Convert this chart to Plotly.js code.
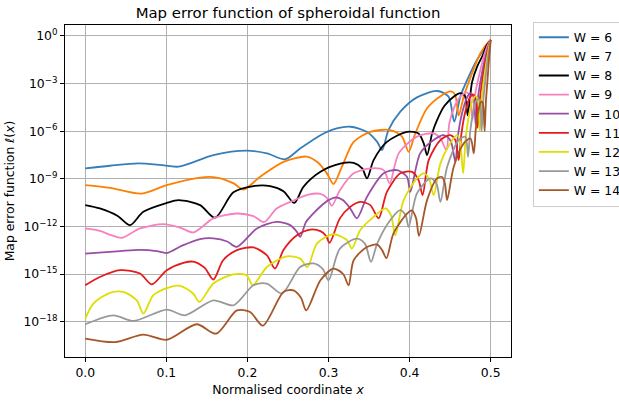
<!DOCTYPE html>
<html>
<head>
<meta charset="utf-8">
<script src="https://cdn.plot.ly/plotly-3.0.1.min.js"></script>
<style>
  html, body { margin: 0; padding: 0; background: #ffffff; }
  #chart { width: 619px; height: 401px; }
</style>
</head>
<body>
<div id="chart"></div>
<script>
// Map error of the spheroidal gridding function for kernel supports W = 6 .. 14,
// sampled along the normalised coordinate x in [0, 0.5].

const supports = [6, 7, 8, 9, 10, 11, 12, 13, 14];

const x6 = [0, .0305, .065, .092, .115, .158, .199, .224, .2465, .265, .29, .306, .327, .347, .36, .366, .374, .3885, .409, .434, .448, .455, .4625, .471, .483, .5];
const err6 = [4.5e-9, 6.6e-9, 9.3e-9, 7.6e-9, 5.8e-9, 3.1e-8, 5.9e-8, 4.0e-8, 1.7e-8, 8.1e-8, 5.6e-7, 1.3e-6, 1.9e-6, 9.1e-7, 2.1e-7, 6.5e-8, 1.2e-6, 1.7e-5, 1.35e-4, 3.4e-4, 1.5e-4, 4.0e-6, 1.5e-4, 1.7e-3, 3.1e-2, 0.56];

const x7 = [0, .0305, .0696, .1005, .1416, .162, .183, .195, .2157, .2444, .273, .2857, .298, .306, .3165, .331, .3515, .376, .3906, .3988, .407, .4215, .438, .451, .456, .4605, .4667, .477, .4873, .4975, .5];
const err7 = [4.0e-10, 2.7e-10, 1.17e-10, 4.0e-10, 1.2e-9, 1.2e-9, 5.1e-10, 2.1e-10, 1.35e-9, 1.17e-8, 2.5e-8, 1.17e-8, 2.2e-9, 4.6e-10, 5.8e-9, 2.1e-7, 9.1e-7, 1.17e-6, 4.5e-7, 5.0e-8, 7.2e-7, 2.75e-5, 1.6e-4, 3.2e-4, 2.0e-4, 1.0e-5, 1.5e-4, 4.5e-3, 8.1e-2, 0.44, 0.56];

const x8 = [0, .018, .04, .0552, .0716, .1005, .115, .1416, .160, .1827, .2074, .228, .2444, .2577, .269, .29, .3145, .331, .3415, .3474, .3556, .372, .3968, .411, .4174, .4215, .4277, .4338, .443, .455, .4626, .468, .4715, .477, .4835, .4894, .495, .5];
const err8 = [2.2e-11, 1.35e-11, 4.5e-12, 1.2e-12, 8.3e-12, 3.0e-11, 4.5e-11, 2.2e-11, 3.5e-12, 1.4e-10, 3.5e-10, 3.5e-10, 1.66e-10, 3.0e-11, 3.1e-10, 2.75e-9, 8.9e-9, 1.0e-8, 4.5e-9, 1.05e-9, 1.5e-8, 2.1e-7, 9.1e-7, 7.2e-7, 1.7e-7, 3.1e-8, 7.2e-7, 5.0e-6, 4.0e-5, 1.6e-4, 2.5e-4, 1.8e-4, 1.0e-5, 1.26e-3, 1.26e-2, 5.0e-2, 0.25, 0.56];

const x9 = [0, .018, .032, .045, .0675, .0963, .117, .1333, .158, .187, .2074, .2206, .236, .2527, .275, .29, .298, .304, .314, .331, .3515, .368, .3753, .3865, .409, .4296, .438, .4453, .449, .455, .463, .4705, .4745, .4775, .481, .4865, .4925, .4975, .5];
const err9 = [7.4e-13, 5.2e-13, 2.8e-13, 1.9e-13, 7.4e-13, 1.4e-12, 8.5e-13, 4.2e-13, 3.2e-12, 6.5e-12, 4.4e-12, 1.9e-12, 1.35e-11, 3.5e-11, 1.0e-10, 1.12e-10, 6.3e-11, 2.0e-11, 1.9e-10, 2.2e-9, 4.5e-9, 3.5e-9, 5.1e-10, 4.0e-8, 4.5e-7, 7.2e-7, 3.5e-7, 6.5e-8, 3.2e-6, 3.2e-5, 1.6e-4, 2.8e-4, 1.6e-4, 5.0e-6, 2.5e-4, 5.0e-3, 7.9e-2, 0.35, 0.56];

const x10 = [0, .043, .0675, .088, .1005, .12, .1416, .158, .175, .187, .2116, .236, .2527, .261, .265, .272, .281, .29, .30, .309, .318, .3268, .335, .3474, .368, .3845, .3968, .4008, .413, .4296, .442, .4505, .4564, .4595, .465, .4715, .4755, .479, .4815, .4845, .489, .494, .4985, .5];
const err10 = [1.95e-14, 2.8e-14, 3.3e-14, 2.8e-14, 2.1e-14, 6.3e-14, 1.6e-13, 1.75e-13, 1.12e-13, 5.1e-14, 7.4e-13, 1.9e-12, 1.2e-12, 4.5e-13, 2.2e-13, 1.8e-12, 6.3e-12, 1.8e-11, 4.5e-11, 6.8e-11, 4.5e-11, 1.35e-11, 3.2e-12, 7.2e-11, 2.2e-9, 3.5e-9, 1.3e-9, 1.5e-10, 4.0e-8, 2.75e-7, 5.6e-7, 2.5e-7, 1.17e-8, 5.0e-7, 1.6e-5, 1.6e-4, 2.5e-4, 1.26e-4, 2.5e-6, 1.6e-4, 4.0e-3, 6.3e-2, 0.35, 0.56];

const x11 = [0, .018, .043, .0675, .082, .1005, .121, .133, .147, .158, .17, .187, .2074, .224, .234, .2444, .261, .2774, .29, .297, .3012, .314, .3268, .339, .3515, .3617, .372, .3885, .403, .411, .416, .4235, .438, .45, .4564, .4605, .464, .469, .4745, .4785, .4815, .4838, .4868, .4905, .4948, .4985, .5];
const err11 = [1.95e-16, 6.5e-16, 1.74e-15, 1.07e-15, 2.2e-16, 1.74e-15, 5.0e-15, 6.0e-15, 2.5e-15, 4.5e-16, 7.4e-15, 3.2e-14, 4.7e-14, 1.5e-14, 2.2e-15, 3.2e-14, 2.75e-13, 6.3e-13, 5.0e-13, 2.5e-13, 9.1e-14, 3.2e-12, 1.7e-11, 3.5e-11, 2.2e-11, 3.2e-12, 1.5e-10, 2.2e-9, 2.75e-9, 8.3e-10, 9.3e-11, 1.5e-8, 2.75e-7, 5.6e-7, 2.75e-7, 1.5e-8, 7.9e-7, 2.0e-5, 1.4e-4, 2.0e-4, 1.0e-4, 1.6e-6, 1.26e-4, 3.2e-3, 5.0e-2, 0.32, 0.56];

const x12 = [0, .01, .0305, .047, .0635, .0716, .084, .1046, .117, .133, .1408, .158, .1827, .199, .2065, .224, .2486, .265, .274, .2857, .306, .3227, .3288, .339, .3556, .37, .377, .3823, .3926, .409, .4173, .424, .4296, .438, .45, .4585, .462, .466, .469, .4735, .478, .4815, .4845, .4865, .4888, .492, .4955, .4988, .5];
const err12 = [1.55e-18, 1.38e-17, 6.5e-17, 7.4e-17, 2.2e-17, 3.2e-18, 4.6e-17, 1.5e-16, 1.78e-16, 5.9e-17, 1.74e-17, 2.5e-16, 9.5e-16, 8.3e-16, 1.95e-16, 2.75e-15, 1.3e-14, 9.3e-15, 2.75e-15, 8.3e-14, 3.2e-13, 1.35e-13, 4.0e-14, 5.75e-13, 4.0e-12, 1.35e-11, 5.0e-12, 2.75e-13, 4.5e-11, 1.05e-9, 2.2e-9, 1.0e-9, 9.3e-11, 9.3e-9, 1.7e-7, 5.6e-7, 2.5e-7, 2.2e-9, 3.2e-7, 1.26e-5, 1.0e-4, 1.6e-4, 7.9e-5, 1.0e-6, 1.0e-4, 2.5e-3, 4.0e-2, 0.32, 0.56];

const x13 = [0, .0346, .0593, .1005, .123, .158, .1827, .2074, .224, .2425, .265, .2815, .293, .3, .314, .335, .345, .3523, .36, .376, .3885, .395, .3988, .409, .4255, .433, .438, .4462, .4605, .4687, .472, .4745, .478, .482, .4848, .4872, .4888, .4908, .4935, .4965, .499, .5];
const err13 = [6.8e-19, 2.5e-18, 1.1e-18, 5.75e-18, 2.5e-18, 2.2e-17, 1.07e-17, 1.95e-16, 2.5e-16, 5.9e-17, 2.75e-15, 4.6e-15, 2.0e-15, 4.0e-16, 4.0e-14, 1.7e-13, 7.9e-14, 5.75e-15, 8.3e-14, 2.45e-12, 1.05e-11, 5.0e-12, 9.3e-13, 1.2e-10, 1.05e-9, 5.0e-10, 3.5e-11, 5.6e-9, 2.75e-7, 4.5e-7, 2.45e-8, 7.9e-7, 1.26e-5, 7.9e-5, 1.12e-4, 5.0e-5, 1.0e-6, 7.9e-5, 2.0e-3, 4.0e-2, 0.28, 0.56];

const x14 = [0, .037, .0716, .1005, .1375, .1614, .187, .2033, .219, .2444, .2568, .266, .2725, .29, .306, .318, .3247, .331, .3474, .36, .366, .3714, .38, .3968, .403, .408, .4115, .4215, .4338, .44, .4435, .4462, .4543, .4667, .475, .4791, .4815, .4845, .4875, .4895, .491, .4925, .494, .496, .498, .4995, .5];
const err14 = [8.5e-20, 5.1e-20, 1.5e-19, 7.2e-20, 6.8e-19, 1.74e-19, 5.1e-18, 4.0e-18, 5.6e-19, 7.4e-17, 9.3e-17, 3.2e-17, 5.1e-18, 4.0e-16, 2.2e-15, 1.0e-15, 1.95e-16, 7.4e-15, 5.0e-14, 7.1e-14, 3.2e-14, 1.0e-14, 3.5e-13, 6.3e-12, 1.0e-11, 3.2e-12, 2.5e-13, 4.5e-11, 1.05e-9, 1.3e-9, 5.0e-10, 4.5e-11, 5.6e-9, 1.7e-7, 3.5e-7, 4.0e-8, 1.26e-6, 1.6e-5, 6.3e-5, 7.1e-5, 3.2e-5, 1.0e-6, 6.3e-5, 1.6e-3, 4.0e-2, 0.28, 0.56];

const xs = [x6, x7, x8, x9, x10, x11, x12, x13, x14];
const errs = [err6, err7, err8, err9, err10, err11, err12, err13, err14];
const colors = ['#377eb8', '#ff7f00', '#000000', '#f781bf', '#984ea3', '#e41a1c', '#dede00', '#999999', '#a65628'];

const yTickVals = [1, 1e-3, 1e-6, 1e-9, 1e-12, 1e-15, 1e-18];
const yTickText = ['10<sup>0</sup>', '10<sup>\u22123</sup>', '10<sup>\u22126</sup>', '10<sup>\u22129</sup>',
                   '10<sup>\u221212</sup>', '10<sup>\u221215</sup>', '10<sup>\u221218</sup>'];
const xTickVals = [0, 0.1, 0.2, 0.3, 0.4, 0.5];

const FONT = 'DejaVu Sans, sans-serif';

const traces = supports.map((w, i) => ({
  type: 'scatter',
  mode: 'lines',
  name: 'W = ' + w,
  x: xs[i],
  y: errs[i],
  line: { color: colors[i], width: 1.8, shape: 'spline', smoothing: 0.8 }
}));

const axisCommon = {
  showline: true,
  mirror: true,
  linecolor: '#000000',
  linewidth: 1,
  ticks: 'outside',
  ticklen: 4,
  tickwidth: 1,
  tickcolor: '#000000',
  showgrid: true,
  gridcolor: '#b0b0b0',
  gridwidth: 1,
  zeroline: false,
  tickfont: { family: FONT, size: 12.4, color: '#000000' }
};

const layout = {
  width: 619,
  height: 401,
  margin: { l: 65, r: 108, t: 25, b: 44, autoexpand: false },
  paper_bgcolor: '#ffffff',
  plot_bgcolor: '#ffffff',
  font: { family: FONT, size: 12.4, color: '#000000' },
  title: {
    text: 'Map error function of spheroidal function',
    font: { family: FONT, size: 14.9, color: '#000000' },
    x: 0.5, xref: 'paper',
    y: 1 - 13 / 401, yref: 'container', yanchor: 'middle'
  },
  xaxis: Object.assign({}, axisCommon, {
    range: [-0.025, 0.525],
    tickvals: xTickVals,
    tickformat: '.1f',
    title: { text: 'Normalised coordinate <i>x</i>', font: { family: FONT, size: 12.4 }, standoff: 6 }
  }),
  yaxis: Object.assign({}, axisCommon, {
    type: 'log',
    range: [-20.23, 0.69],
    tickvals: yTickVals,
    ticktext: yTickText,
    title: { text: 'Map error function \u2113(<i>x</i>)', font: { family: FONT, size: 12.4 }, standoff: 6 }
  }),
  legend: {
    x: 1.049, xanchor: 'left',
    y: 1.01, yanchor: 'top',
    bgcolor: '#ffffff',
    bordercolor: '#cccccc',
    borderwidth: 1,
    font: { family: FONT, size: 12.4, color: '#000000' },
    tracegroupgap: 0
  },
  showlegend: true
};

Plotly.newPlot('chart', traces, layout, { displayModeBar: false, staticPlot: true });
</script>
</body>
</html>
